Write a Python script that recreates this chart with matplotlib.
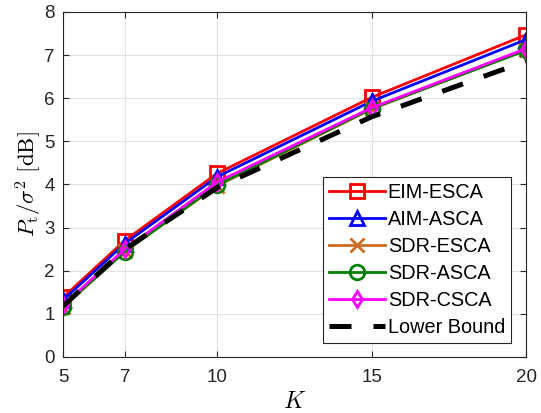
import matplotlib
matplotlib.use('Agg')
from matplotlib import pyplot

pyplot.rcParams['font.family'] = ['Liberation Sans', 'DejaVu Sans']
pyplot.rcParams['mathtext.fontset'] = 'cm'

# number of users
K = [5, 7, 10, 15, 20]

# transmit power over noise power, in dB
eim_esca = [1.38, 2.70, 4.26, 6.02, 7.47]
aim_asca = [1.32, 2.63, 4.18, 5.93, 7.36]
sdr_esca = [1.15, 2.45, 3.97, 5.75, 7.12]
sdr_asca = [1.17, 2.44, 3.99, 5.76, 7.11]
sdr_csca = [1.20, 2.50, 4.06, 5.78, 7.15]
lower_bound = [1.18, 2.50, 3.93, 5.57, 6.86]

xticks = [5, 7, 10, 15, 20]
yticks = [0, 1, 2, 3, 4, 5, 6, 7, 8]

figure = pyplot.figure(figsize=(5.41, 4.13), dpi=100)
axes = figure.add_axes([0.1165, 0.1356, 0.8558, 0.8354])

lw = 2.0
ms = 10.5
axes.plot(K, eim_esca, color='red', lw=lw, marker='s', ms=ms, mfc='none', mew=2, label='EIM-ESCA')
axes.plot(K, aim_asca, color='blue', lw=lw, marker='^', ms=ms, mfc='none', mew=2, label='AIM-ASCA')
axes.plot(K, sdr_esca, color='#CD6B1E', lw=lw, marker='x', ms=ms, mfc='none', mew=2, label='SDR-ESCA')
axes.plot(K, sdr_asca, color='#008000', lw=lw, marker='o', ms=ms, mfc='none', mew=2, label='SDR-ASCA')
axes.plot(K, sdr_csca, color='magenta', lw=lw, marker='d', ms=8, mfc='none', mew=2, label='SDR-CSCA')
axes.plot(K, lower_bound, color='black', lw=3.6, linestyle=(0, (4.4, 4.4)), label='Lower Bound')

axes.set_xlim(5, 20)
axes.set_ylim(0, 8)
axes.set_xticks(xticks)
axes.set_yticks(yticks)
axes.grid(True, color='#e3e3e3', linewidth=0.8)
axes.set_axisbelow(True)
axes.tick_params(direction='in', top=True, right=True, length=4, width=0.8,
                 colors='#262626', labelsize=13.5)
axes.tick_params(axis='x', pad=9)
axes.tick_params(axis='y', pad=6)
for spine in axes.spines.values():
    spine.set_color('#262626')
    spine.set_linewidth(0.8)

axes.set_xlabel(r'$K$', fontsize=17, labelpad=3)
axes.set_ylabel(r'$P_{\mathrm{t}}/\sigma^2\ [\mathrm{dB}]$', fontsize=16.5, labelpad=0)

legend = axes.legend(loc='lower right', bbox_to_anchor=(0.968, 0.041), fontsize=14.3,
                     handlelength=2.8, handletextpad=0.15, labelspacing=0.4,
                     borderpad=0.3, borderaxespad=0, fancybox=False, framealpha=1)
legend.get_frame().set_edgecolor('#262626')
legend.get_frame().set_linewidth(0.8)

figure.savefig('out.png', dpi=100)
